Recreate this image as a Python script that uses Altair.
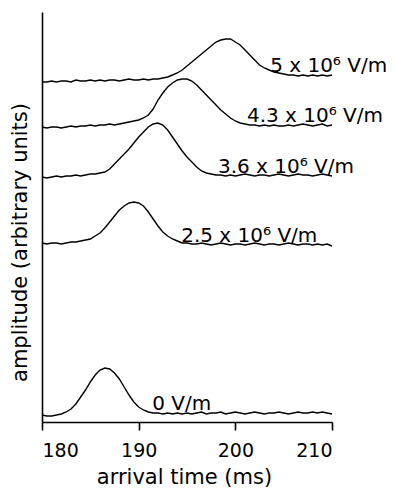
import altair as alt
import pandas as pd

# sampling grid (ms)
t_start = 180.0
t_step = 0.5
n_pts = 61

# traces (amplitude, arbitrary units, offset already included)
f0 = [7, 6, 6, 7, 8, 10, 13, 18, 25, 32,
      40, 47, 52, 54, 53, 49, 43, 35, 27, 20,
      15, 12, 10, 9, 9,
      8, 9, 8, 9, 8, 9, 8, 9, 10, 8,
      9, 9, 10, 8, 9, 10, 9, 8, 9, 10,
      9, 8, 9, 9, 10, 9, 8, 9, 10, 9,
      9, 10, 9, 10, 9, 8]
f25 = [179, 178, 179, 179, 178, 179, 180, 180, 181, 182,
       183, 186, 189, 194, 200, 206, 212, 216, 219, 220,
       219, 216, 210, 203, 196, 190, 186, 183, 181, 179,
       179, 178,
       178, 179, 178, 177, 178, 179, 178, 177, 178, 178,
       177, 178, 179, 178, 177, 178, 178, 177, 178, 179,
       178, 177, 178, 178, 177, 178, 177, 178, 176]
f36 = [245, 244, 245, 246, 245, 246, 246, 247, 246, 247,
       248, 248, 249, 250, 253, 258, 263, 268, 273, 279,
       285, 290, 295, 298, 299, 297, 292, 285, 278, 271,
       265, 260, 255, 251, 249, 248, 247, 247,
       246, 247, 246, 247, 248, 247, 246, 247, 247, 246,
       247, 248, 247, 246, 247, 248, 247, 247, 246, 247,
       248, 247, 246]
f43 = [295, 294, 295, 295, 294, 295, 296, 295, 296, 296,
       297, 296, 297, 297, 298, 297, 298, 299, 300, 301,
       302, 304, 307, 313, 322, 329, 335, 339, 342, 343,
       343, 341, 337, 332, 327, 322, 317, 312, 308, 304,
       301, 299, 298, 297, 297,
       296, 297, 296, 297, 296, 296, 297, 296, 297, 298,
       297, 296, 297, 298, 296, 297]
f5 = [340, 340, 341, 340, 341, 341, 340, 342, 341, 341,
      342, 341, 342, 341, 342, 342, 341, 342, 343, 342,
      342, 343, 342, 343, 343, 344, 345, 347, 349, 352,
      356, 360, 364, 368, 372, 376, 380, 382, 383, 383,
      380, 377, 372, 367, 362, 357, 354, 352, 350, 349,
      348, 347, 347, 346, 347, 346, 347, 346, 347, 346,
      347]

series_names = ["0", "2.5", "3.6", "4.3", "5"]
series_vals = [f0, f25, f36, f43, f5]

label_text = ["0 V/m", "2.5 x 10\u2076 V/m", "3.6 x 10\u2076 V/m",
              "4.3 x 10\u2076 V/m", "5 x 10\u2076 V/m"]
label_t = [191.4, 194.4, 198.2, 201.2, 203.6]
label_v = [12, 180, 249, 300, 350]

x_ticks = [180, 190, 200, 210]

times = [t_start + t_step * i for i in range(n_pts)]
rows = []
for name, vals in zip(series_names, series_vals):
    for t, v in zip(times, vals):
        rows.append({"t": t, "v": v, "series": name})
df = pd.DataFrame(rows)
lab = pd.DataFrame({"label": label_text, "t": label_t, "v": label_v})

xscale = alt.Scale(domain=[180, 210], nice=False, zero=False)
yscale = alt.Scale(domain=[0, 410], nice=False, zero=False)

lines = alt.Chart(df).mark_line(color="black", strokeWidth=1.4).encode(
    x=alt.X("t:Q", scale=xscale,
            axis=alt.Axis(values=x_ticks, title="arrival time (ms)", grid=False,
                          tickSize=8, labelFontSize=19, labelPadding=11,
                          titleFontSize=21, titleY=61, titleX=142,
                          titleAlign="center", titleBaseline="alphabetic")),
    y=alt.Y("v:Q", scale=yscale,
            axis=alt.Axis(title="amplitude (arbitrary units)", ticks=False,
                          labels=False, grid=False, titleFontSize=21,
                          titleAngle=270, titleX=-16, titleY=230,
                          titleAlign="center", titleBaseline="alphabetic")),
    detail="series:N",
    order="t:Q",
)

texts = alt.Chart(lab).mark_text(align="left", baseline="alphabetic",
                                 font="DejaVu Sans", fontSize=20,
                                 color="black").encode(
    x=alt.X("t:Q", scale=xscale),
    y=alt.Y("v:Q", scale=yscale),
    text="label:N",
)

chart = (lines + texts).properties(
    width=290, height=410,
    padding={"left": 34, "top": 4, "right": 56, "bottom": 67},
    autosize=alt.AutoSizeParams(type="none"),
).configure_view(stroke=None).configure_axis(
    domainColor="black", domainWidth=1.6, tickColor="black", tickWidth=1.6,
    labelColor="black", titleColor="black", labelFont="DejaVu Sans",
    titleFont="DejaVu Sans", titleFontWeight="normal",
)

chart.save("out.html", embed_options={"renderer": "svg", "actions": False})
